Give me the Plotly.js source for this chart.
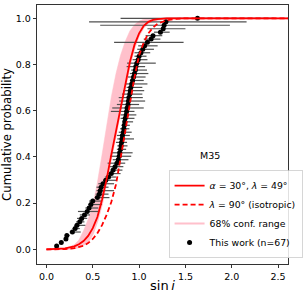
<!DOCTYPE html>
<html><head><meta charset="utf-8">
<script src="https://cdn.plot.ly/plotly-3.0.1.min.js"></script>
<style>html,body{margin:0;padding:0;background:#fff;} #chart{width:305px;height:293px;}</style>
</head><body><div id="chart"></div>
<script>
// Model curves (cumulative probability vs sin i)
const modelX     = [0, 0.1, 0.2, 0.3, 0.35, 0.4, 0.45, 0.5, 0.55, 0.6, 0.65, 0.7, 0.75, 0.8, 0.85, 0.9, 0.95, 1.0, 1.05, 1.1, 1.15, 1.2, 1.3, 1.4, 1.5, 2.0, 2.61];
const solidY     = [0, 0.0005, 0.004, 0.013, 0.022, 0.036, 0.058, 0.092, 0.14, 0.215, 0.305, 0.41, 0.51, 0.615, 0.715, 0.81, 0.885, 0.935, 0.968, 0.985, 0.993, 0.997, 0.9995, 1.0, 1.0, 1.0, 1.0];
const isoY       = [0, 0, 0.001, 0.005, 0.009, 0.015, 0.027, 0.045, 0.07, 0.105, 0.15, 0.205, 0.28, 0.39, 0.51, 0.63, 0.745, 0.84, 0.895, 0.935, 0.96, 0.977, 0.992, 0.998, 1.0, 1.0, 1.0];
const bandLowerY = [0, 0, 0.001, 0.005, 0.01, 0.02, 0.035, 0.068, 0.125, 0.20, 0.295, 0.40, 0.50, 0.605, 0.705, 0.80, 0.875, 0.928, 0.962, 0.981, 0.99, 0.995, 0.999, 1.0, 1.0, 1.0, 1.0];
const bandUpperY = [0, 0.0005, 0.003, 0.02, 0.04, 0.08, 0.13, 0.19, 0.29, 0.41, 0.54, 0.66, 0.76, 0.84, 0.90, 0.945, 0.972, 0.988, 0.996, 0.999, 1.0, 1.0, 1.0, 1.0, 1.0, 1.0, 1.0];

// Observed stars: sin i, cumulative probability, asymmetric errors
const obsSini = [0.11, 0.16, 0.21, 0.22, 0.28, 0.31, 0.33, 0.36, 0.38, 0.41,
                 0.44, 0.46, 0.48, 0.50, 0.55, 0.57, 0.58, 0.59, 0.61, 0.64,
                 0.67, 0.70, 0.72, 0.74, 0.76, 0.775, 0.785, 0.79, 0.80, 0.805,
                 0.81, 0.815, 0.82, 0.83, 0.835, 0.84, 0.845, 0.85, 0.86, 0.865,
                 0.87, 0.88, 0.885, 0.89, 0.90, 0.905, 0.91, 0.92, 0.93, 0.94,
                 0.95, 0.96, 0.965, 0.975, 0.99, 1.00, 1.02, 1.04, 1.06, 1.09,
                 1.13, 1.15, 1.23, 1.26, 1.27, 1.29, 1.63];
const obsCum = [0.015, 0.030, 0.045, 0.060, 0.075, 0.090, 0.104, 0.119, 0.134, 0.149,
                0.164, 0.179, 0.194, 0.209, 0.224, 0.239, 0.254, 0.269, 0.284, 0.299,
                0.313, 0.328, 0.343, 0.358, 0.373, 0.388, 0.403, 0.418, 0.433, 0.448,
                0.463, 0.478, 0.493, 0.507, 0.522, 0.537, 0.552, 0.567, 0.582, 0.597,
                0.612, 0.627, 0.642, 0.657, 0.672, 0.687, 0.701, 0.716, 0.731, 0.746,
                0.761, 0.776, 0.791, 0.806, 0.821, 0.836, 0.851, 0.866, 0.881, 0.896,
                0.910, 0.925, 0.940, 0.955, 0.970, 0.985, 1.000];
const obsErrMinus = [0.01, 0.01, 0.02, 0.02, 0.03, 0.03, 0.03, 0.04, 0.05, 0.05,
                     0.10, 0.04, 0.03, 0.04, 0.03, 0.04, 0.04, 0.05, 0.05, 0.03,
                     0.04, 0.04, 0.03, 0.06, 0.10, 0.06, 0.10, 0.09, 0.04, 0.04,
                     0.06, 0.05, 0.06, 0.05, 0.04, 0.03, 0.02, 0.05, 0.06, 0.17,
                     0.16, 0.12, 0.10, 0.11, 0.085, 0.075, 0.045, 0.07, 0.03, 0.06,
                     0.05, 0.045, 0.10, 0.105, 0.06, 0.05, 0.07, 0.06, 0.07, 0.36,
                     0.08, 0.08, 0.07, 0.17, 0.69, 0.83, 0.83];
const obsErrPlus  = [0.01, 0.01, 0.02, 0.03, 0.09, 0.05, 0.09, 0.05, 0.06, 0.06,
                     0.13, 0.10, 0.12, 0.10, 0.13, 0.10, 0.15, 0.08, 0.12, 0.12,
                     0.08, 0.10, 0.10, 0.09, 0.09, 0.11, 0.13, 0.14, 0.06, 0.07,
                     0.06, 0.13, 0.08, 0.09, 0.06, 0.06, 0.09, 0.10, 0.11, 0.085,
                     0.18, 0.12, 0.18, 0.15, 0.135, 0.15, 0.125, 0.17, 0.12, 0.13,
                     0.15, 0.125, 0.10, 0.205, 0.10, 0.08, 0.10, 0.12, 0.14, 0.39,
                     0.10, 0.10, 0.10, 0.24, 0.71, 0.87, 0.83];

const xTicks = [0, 0.5, 1.0, 1.5, 2.0, 2.5];
const yTicks = [0, 0.2, 0.4, 0.6, 0.8, 1.0];

const FONT = 'DejaVu Sans, Liberation Sans, sans-serif';
const PINK = '#ffc0cb';

const traces = [
  {x: modelX, y: bandLowerY, type: 'scatter', mode: 'lines', line: {color: PINK, width: 2},
   name: '68% conf. range', legendrank: 3},
  {x: modelX, y: bandUpperY, type: 'scatter', mode: 'lines', line: {color: PINK, width: 0.5},
   fill: 'tonexty', fillcolor: PINK, showlegend: false},
  {x: obsSini, y: obsCum, type: 'scatter', mode: 'markers', marker: {color: 'black', size: 5},
   error_x: {type: 'data', symmetric: false, array: obsErrPlus, arrayminus: obsErrMinus,
             color: '#505050', thickness: 1.2, width: 0},
   name: 'This work (n=67)', legendrank: 4},
  {x: modelX, y: solidY, type: 'scatter', mode: 'lines', line: {color: '#ff0000', width: 1.8},
   name: '<i>α</i> = 30°, <i>λ</i> = 49°', legendrank: 1},
  {x: modelX, y: isoY, type: 'scatter', mode: 'lines', line: {color: '#ff0000', width: 1.8, dash: '5px,3px'},
   name: '<i>λ</i> = 90° (isotropic)', legendrank: 2}
];

const axisCommon = {
  ticks: 'outside', ticklen: 3.5, tickwidth: 0.8, tickcolor: 'black',
  showline: true, mirror: true, linecolor: 'black', linewidth: 0.8,
  showgrid: false, zeroline: false, tickfont: {size: 9.5, family: FONT}, automargin: false
};

const layout = {
  width: 305, height: 293,
  margin: {l: 37, r: 2, t: 5, b: 29, pad: 0},
  paper_bgcolor: 'white', plot_bgcolor: 'white',
  font: {family: FONT, size: 9.5, color: 'black'},
  showlegend: true,
  xaxis: Object.assign({}, axisCommon, {
    range: [-0.102, 2.607], tickvals: xTicks, ticktext: xTicks.map(v => v.toFixed(1)),
    title: {text: 'sin\u2009<i>i</i>', font: {size: 13, family: FONT}, standoff: 2}
  }),
  yaxis: Object.assign({}, axisCommon, {
    range: [-0.0634, 1.0577], tickvals: yTicks, ticktext: yTicks.map(v => v.toFixed(1)),
    title: {text: 'Cumulative probability', font: {size: 11.7, family: FONT}, standoff: 4}
  }),
  legend: {x: 0.525, y: 0.022, xanchor: 'left', yanchor: 'bottom', traceorder: 'normal',
           bgcolor: 'rgba(255,255,255,0.85)', bordercolor: '#cccccc', borderwidth: 0.8,
           font: {size: 9.3, family: FONT}, itemwidth: 30, tracegroupgap: 0},
  annotations: [{x: 1.635, y: 0.408, xref: 'x', yref: 'y', text: 'M35', showarrow: false,
                 xanchor: 'left', yanchor: 'middle', font: {size: 9.5, family: FONT}}]
};

Plotly.newPlot('chart', traces, layout, {staticPlot: true, displayModeBar: false});
</script>
</body></html>
